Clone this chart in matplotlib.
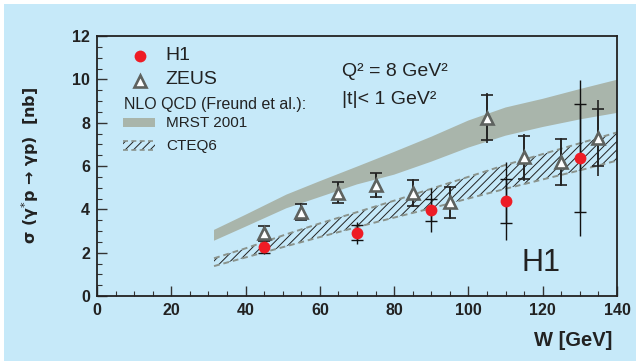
import numpy as np
import matplotlib.pyplot as plt
from matplotlib.patches import Rectangle

plt.rcParams['font.family'] = ['Liberation Sans', 'DejaVu Sans']
plt.rcParams['hatch.linewidth'] = 0.7

# H1 data
h1_w = [45, 70, 90, 110, 130]
h1_sig = [2.28, 2.92, 3.97, 4.38, 6.37]
h1_stat = [0.3, 0.35, 0.5, 1.0, 2.5]
h1_tot = [0.35, 0.5, 1.0, 1.8, 3.6]

# ZEUS data
zeus_w = [45, 55, 65, 75, 85, 95, 105, 115, 125, 135]
zeus_sig = [2.89, 3.89, 4.77, 5.12, 4.74, 4.32, 8.23, 6.40, 6.18, 7.31]
zeus_stat = [0.33, 0.36, 0.48, 0.55, 0.60, 0.72, 1.03, 1.00, 1.06, 1.30]
zeus_tot = [0.35, 0.38, 0.50, 0.58, 0.65, 0.75, 1.15, 1.10, 1.10, 1.75]

# NLO QCD bands
band_w = [31.5, 40, 51, 60, 70, 80, 90, 100, 110, 120, 130, 140]
mrst_lo = [2.55, 3.20, 4.05, 4.57, 5.15, 5.60, 6.20, 6.85, 7.40, 7.80, 8.15, 8.45]
mrst_hi = [3.05, 3.75, 4.68, 5.30, 5.97, 6.65, 7.35, 8.10, 8.70, 9.10, 9.55, 9.98]
cteq_lo = [1.38, 1.78, 2.30, 2.72, 3.18, 3.62, 4.05, 4.50, 4.95, 5.38, 5.80, 6.25]
cteq_hi = [1.74, 2.20, 2.85, 3.35, 3.87, 4.40, 4.95, 5.50, 6.05, 6.55, 7.05, 7.55]

bg = '#c6e9f9'
band_col = '#a9b5ab'
ink = '#222222'

fig = plt.figure(figsize=(6.36, 3.61), dpi=100, facecolor='white')
fig.patches.append(Rectangle((4 / 636, 0), 1, 1 - 4 / 361, transform=fig.transFigure,
                             facecolor=bg, edgecolor='none', zorder=-10))
ax = fig.add_axes([97 / 636, 1 - 296 / 361, 520 / 636, 260 / 361])
ax.set_facecolor(bg)

# bands
ax.fill_between(band_w, mrst_lo, mrst_hi, facecolor=band_col, edgecolor='none', zorder=1)
ax.fill_between(band_w, cteq_lo, cteq_hi, facecolor='none', edgecolor=ink,
                hatch='////', linewidth=0, zorder=2)
ax.plot(band_w, cteq_lo, color='#8a938c', lw=1.4, ls=(0, (3, 2)), zorder=2)
ax.plot(band_w, cteq_hi, color='#8a938c', lw=1.4, ls=(0, (3, 2)), zorder=2)

# error bars: line = total, ticks = statistical
ax.errorbar(h1_w, h1_sig, yerr=h1_tot, fmt='none', ecolor='#111111', elinewidth=1.0, zorder=3)
ax.errorbar(h1_w, h1_sig, yerr=h1_stat, fmt='none', ecolor='#111111', elinewidth=1.0,
            capsize=4, capthick=1.0, zorder=3)
ax.errorbar(zeus_w, zeus_sig, yerr=zeus_tot, fmt='none', ecolor=ink, elinewidth=1.2, zorder=3)
ax.errorbar(zeus_w, zeus_sig, yerr=zeus_stat, fmt='none', ecolor=ink, elinewidth=1.2,
            capsize=4.5, capthick=1.2, zorder=3)

ax.plot(h1_w, h1_sig, 'o', color='#ee1c25', markersize=8.5, markeredgewidth=0, zorder=4)
ax.plot(zeus_w, zeus_sig, '^', markerfacecolor='white', markeredgecolor='#5e625f',
        markersize=8, markeredgewidth=1.9, zorder=4)

ax.set_xlim(0, 140)
ax.set_ylim(0, 12)
ax.set_xticks(np.arange(0, 141, 20))
ax.set_xticks(np.arange(0, 141, 5), minor=True)
ax.set_yticks(np.arange(0, 13, 2))
ax.set_yticks(np.arange(0, 12.1, 0.5), minor=True)
ax.tick_params(which='both', direction='in', top=False, right=False, color='#333333')
ax.tick_params(which='major', length=7, width=1.0, labelsize=11.5, pad=5)
ax.tick_params(which='minor', length=3.5, width=0.8)
for lab in ax.get_xticklabels() + ax.get_yticklabels():
    lab.set_fontweight('bold')
    lab.set_color(ink)
for s in ax.spines.values():
    s.set_linewidth(1.3)
    s.set_color(ink)

fig.text(612 / 636, 1 - 340 / 361, 'W [GeV]', fontsize=14.5, fontweight='bold', color=ink,
         ha='right', va='center')
fig.text(30 / 636, 1 - 165 / 361, r'σ (γ$^{*}$p → γp)  [nb]', rotation=90, fontsize=11.5,
         fontweight='bold', ha='center', va='center', color=ink, family=['DejaVu Sans'])

# legend drawn by hand
def fx(px):
    return (px - 97) / 520

def fy(py):
    return (296 - py) / 260

ax.plot([fx(140)], [fy(56)], 'o', color='#ee1c25', markersize=8.5, markeredgewidth=0,
        transform=ax.transAxes)
ax.plot([fx(140)], [fy(81)], '^', markerfacecolor='white', markeredgecolor='#5e625f',
        markersize=8, markeredgewidth=1.9, transform=ax.transAxes)
ax.text(fx(165), fy(56), 'H1', fontsize=14, va='center', transform=ax.transAxes, color=ink)
ax.text(fx(165), fy(80), 'ZEUS', fontsize=14, va='center', transform=ax.transAxes, color=ink)
ax.text(fx(124), fy(104), 'NLO QCD (Freund et al.):', fontsize=11.5, va='center',
        transform=ax.transAxes, color=ink)
ax.add_patch(Rectangle((fx(123), fy(127)), fx(155) - fx(123), fy(118) - fy(127),
                       transform=ax.transAxes, facecolor=band_col, edgecolor='none'))
ax.add_patch(Rectangle((fx(123), fy(150)), fx(155) - fx(123), fy(141) - fy(150),
                       transform=ax.transAxes, facecolor='none', edgecolor=ink,
                       hatch='////', linewidth=0))
ax.plot([fx(123), fx(155)], [fy(141), fy(141)], color='#8a938c', lw=1.2, ls=(0, (3, 2)),
        transform=ax.transAxes)
ax.plot([fx(123), fx(155)], [fy(150), fy(150)], color='#8a938c', lw=1.2, ls=(0, (3, 2)),
        transform=ax.transAxes)
ax.text(fx(166), fy(123), 'MRST 2001', fontsize=11, va='center', transform=ax.transAxes,
        color=ink)
ax.text(fx(166), fy(146), 'CTEQ6', fontsize=11, va='center', transform=ax.transAxes,
        color=ink)

ax.text(fx(342), fy(72), 'Q² = 8 GeV²', fontsize=14, va='center', transform=ax.transAxes,
        color=ink)
ax.text(fx(342), fy(100), '|t|< 1 GeV²', fontsize=14, va='center', transform=ax.transAxes,
        color=ink)
ax.text(fx(522), fy(263), 'H1', fontsize=22, va='center', transform=ax.transAxes,
        color=ink)

fig.savefig('out.png', dpi=100, facecolor=fig.get_facecolor())
